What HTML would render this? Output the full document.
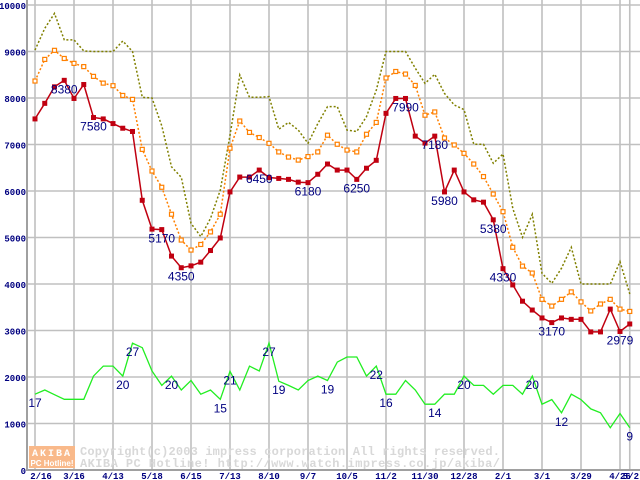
<!DOCTYPE html>
<html><head><meta charset="utf-8"><style>
html,body{margin:0;padding:0;background:#fff;}
svg{display:block;}
</style></head><body>
<svg id="chart" width="640" height="480" viewBox="0 0 640 480" xmlns="http://www.w3.org/2000/svg">
<g id="grid"></g>
<g id="watermark">
  <rect x="29" y="446" width="46" height="22" fill="#f9b98a"/>
  <text x="52" y="456" font-family="Liberation Mono, monospace" font-size="10" font-weight="bold" fill="#fff" text-anchor="middle" letter-spacing="2">AKIBA</text>
  <text x="52" y="466" font-family="Liberation Sans, sans-serif" font-size="8" font-weight="bold" fill="#fff" text-anchor="middle">PC Hotline!</text>
  <text x="80" y="455" font-family="Liberation Mono, monospace" font-size="12" font-weight="bold" fill="#d8d8d8" textLength="420">Copyright(c)2003 impress corporation All rights reserved.</text>
  <text x="80" y="467" font-family="Liberation Mono, monospace" font-size="12" font-weight="bold" fill="#d8d8d8" textLength="420">AKIBA PC Hotline!  http://www.watch.impress.co.jp/akiba/</text>
</g>
<g id="series"></g>
<g id="labels"></g>
<g id="axes"></g>
</svg>
<script>
const xTickLabels = ["2/16","3/16","4/13","5/18","6/15","7/13","8/10","9/7","10/5","11/2","11/30","12/28","2/1","3/1","3/29","4/26"];
const yTicks = [0,1000,2000,3000,4000,5000,6000,7000,8000,9000,10000];
const maxPrice = [9030,9500,9820,9250,9250,9010,9000,9000,9000,9225,9000,8015,8000,7400,6520,6295,5305,5020,5410,6020,
 7200,8495,8015,8015,8030,7330,7475,7310,7025,7450,7815,7815,7310,7280,7600,8170,9000,9000,9000,8640,8315,
 8510,8100,7850,7750,7005,7005,6595,6795,5625,5005,5500,4230,4015,4340,4790,4000,4000,4000,4000,4480,3785];
const avgPrice = [8365,8830,9025,8850,8745,8675,8465,8320,8265,8055,7970,6895,6430,6080,5500,4945,4730,4850,5120,5500,
 6920,7505,7260,7150,7025,6840,6730,6665,6740,6840,7200,7005,6880,6840,7220,7475,8430,8570,8515,8270,7630,7700,
 7140,6990,6810,6580,6310,5935,5555,4790,4385,4235,3670,3525,3670,3830,3615,3420,3570,3670,3460,3410];
const minPrice = [7550,7885,8240,8380,7990,8290,7580,7550,7450,7350,7280,5800,5180,5170,4600,4350,4390,4470,4720,4990,
 5980,6300,6300,6450,6290,6270,6250,6190,6180,6360,6580,6450,6450,6250,6490,6660,7670,7990,7990,7180,7030,
 7180,5980,6450,5980,5810,5760,5380,4330,3980,3630,3440,3270,3170,3270,3240,3240,2970,2970,3460,2979,3140];
const shopCount = [1630,1720,1620,1520,1520,1520,2020,2235,2235,2020,2730,2630,2130,1820,2020,1720,1925,1630,1720,1520,
 2120,1720,2235,2130,2730,1910,1820,1720,1925,2020,1925,2320,2430,2430,2020,2235,1630,1630,1925,1720,1415,
 1415,1630,1630,2020,1820,1820,1630,1820,1820,1630,2020,1415,1515,1230,1630,1515,1315,1230,910,1215,910];
const minLabelIdx = [3,6,13,15,23,28,33,38,41,42,47,48,53,60];
const minLabelText = ["8380","7580","5170","4350","6450","6180","6250","7990","7180","5980","5380","4330","3170","2979"];
const countLabelIdx = [0,9,10,14,19,20,24,25,30,35,36,41,44,51,54,61];
const countLabelText = ["17","20","27","20","15","21","27","19","19","22","16","14","20","20","12","9"];

const NS="http://www.w3.org/2000/svg";
function xPos(i){return 35+i*9.75;}
function yPos(v){return 470-v*0.0465;}
function tickX(k){return 35+k*39;}
function mk(tag,attrs,parent){const e=document.createElementNS(NS,tag);for(const k in attrs)e.setAttribute(k,attrs[k]);parent.appendChild(e);return e;}
const grid=document.getElementById('grid'),series=document.getElementById('series'),labels=document.getElementById('labels'),axes=document.getElementById('axes');

yTicks.forEach(v=>{
  if(v>0){const l=mk('line',{x1:27,x2:640,y1:yPos(v),y2:yPos(v),stroke:'#c0c0c0','stroke-width':1.6},grid);
  
  }
  const t=mk('text',{x:26,y:yPos(v)+4,'text-anchor':'end','font-family':'Liberation Mono, monospace','font-size':9,'font-weight':'bold',fill:'#000080'},axes);
  t.textContent=v;
  
  
});
xTickLabels.forEach((s,k)=>{
  const l=mk('line',{x1:tickX(k),x2:tickX(k),y1:0,y2:470,stroke:'#c0c0c0','stroke-width':1.6},grid);
  
  
  const t=mk('text',{x:k===0?41:tickX(k),y:479,'text-anchor':'middle','font-family':'Liberation Mono, monospace','font-size':9,'font-weight':'bold',fill:'#000080'},axes);
  t.textContent=s;
  
  
});
const lastG=mk('line',{x1:xPos(minPrice.length-1),x2:xPos(minPrice.length-1),y1:0,y2:470,stroke:'#c0c0c0','stroke-width':1.6},grid);


const lastT=mk('text',{x:639,y:479,'text-anchor':'end','font-family':'Liberation Mono, monospace','font-size':9,'font-weight':'bold',fill:'#000080'},axes);
lastT.textContent="5/2";


const ya=mk('line',{x1:27,x2:27,y1:0,y2:471,stroke:'#a0a0a0','stroke-width':2},axes);


const xa=mk('line',{x1:26,x2:640,y1:470,y2:470,stroke:'#a0a0a0','stroke-width':2},axes);



function pts(arr){return arr.map((v,i)=>xPos(i).toFixed(1)+','+yPos(v).toFixed(1)).join(' ');}
const gLine=mk('polyline',{points:pts(shopCount),fill:'none',stroke:'#22ee22','stroke-width':1.3},series);


const oLine=mk('polyline',{points:pts(maxPrice),fill:'none',stroke:'#808000','stroke-width':1.5,'stroke-dasharray':'2,2'},series);


const aLine=mk('polyline',{points:pts(avgPrice),fill:'none',stroke:'#ff8000','stroke-width':1.5,'stroke-dasharray':'2,2'},series);


avgPrice.forEach((v,i)=>{
  const r=mk('rect',{x:xPos(i)-2,y:yPos(v)-2,width:4,height:4,fill:'#fff',stroke:'#ff8000','stroke-width':1.2},series);
  
  
});
const rLine=mk('polyline',{points:pts(minPrice),fill:'none',stroke:'#c00010','stroke-width':1.5},series);


minPrice.forEach((v,i)=>{
  const r=mk('rect',{x:xPos(i)-2.5,y:yPos(v)-2.5,width:5,height:5,fill:'#c00010'},series);
  
  
});
function addLabel(arr,i,txt,name){
  const t=mk('text',{x:xPos(i),y:yPos(arr[i])+13,'text-anchor':'middle','font-family':'Liberation Sans, sans-serif','font-size':12,fill:'#000080'},labels);
  t.textContent=txt;
  
  
}
minLabelIdx.forEach((i,k)=>addLabel(minPrice,i,minLabelText[k],'min-price-label'));
countLabelIdx.forEach((i,k)=>addLabel(shopCount,i,countLabelText[k],'shop-count-label'));
</script>
</body></html>
